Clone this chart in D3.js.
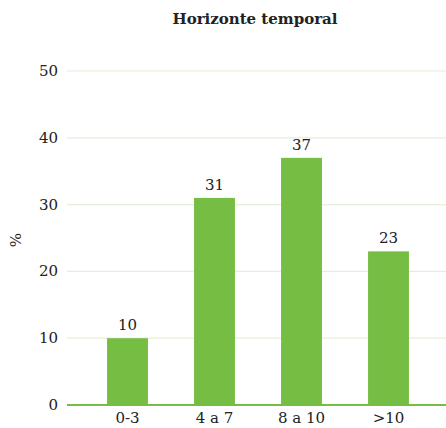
<!DOCTYPE html>
<html><head><meta charset="utf-8">
<script src="https://cdn.jsdelivr.net/npm/d3@7"></script>
<style>body{margin:0;background:#fff}svg{display:block}text{font-family:"DejaVu Serif",serif;fill:#222}</style>
</head><body>
<script>
const categories = ["0-3","4 a 7","8 a 10",">10"];
const values = [10,31,37,23];
const yTicks = [0,10,20,30,40,50];
const title = "Horizonte temporal";
const yLabel = "%";

const W=446,H=428;
const svg=d3.select("body").append("svg").attr("width",W).attr("height",H);
const y=d3.scaleLinear().domain([0,50]).range([405,71]);
const x=d3.scaleBand().domain(categories).range([84,432]).paddingInner(0.53).paddingOuter(0.265);

svg.selectAll(".grid").data(yTicks.filter(d=>d>0)).join("line")
 .attr("x1",67).attr("x2",W).attr("y1",d=>y(d)).attr("y2",d=>y(d))
 .attr("stroke","#e3efd6").attr("stroke-width",1.2);

svg.selectAll(".bar").data(values).join("rect")
 .attr("x",(d,i)=>x(categories[i])).attr("width",x.bandwidth())
 .attr("y",d=>y(d)).attr("height",d=>y(0)-y(d)).attr("fill","#76bd43");

svg.append("line").attr("x1",67).attr("x2",W).attr("y1",y(0)).attr("y2",y(0))
 .attr("stroke","#76bd43").attr("stroke-width",2);

svg.selectAll(".yl").data(yTicks).join("text")
 .attr("x",58).attr("y",d=>y(d)+5).attr("text-anchor","end").attr("font-size",15).text(d=>d);

svg.selectAll(".xl").data(categories).join("text")
 .attr("x",d=>x(d)+x.bandwidth()/2).attr("y",428-5).attr("text-anchor","middle").attr("font-size",15).text(d=>d);

svg.selectAll(".vl").data(values).join("text")
 .attr("x",(d,i)=>x(categories[i])+x.bandwidth()/2).attr("y",d=>y(d)-8).attr("text-anchor","middle").attr("font-size",15).text(d=>d);

svg.append("text").attr("x",255).attr("y",24).attr("text-anchor","middle").attr("font-size",15).attr("font-weight","bold").text(title);
svg.append("text").attr("transform","translate(21,240) rotate(-90)").attr("text-anchor","middle").attr("font-size",15).text(yLabel);
</script>
</body></html>
